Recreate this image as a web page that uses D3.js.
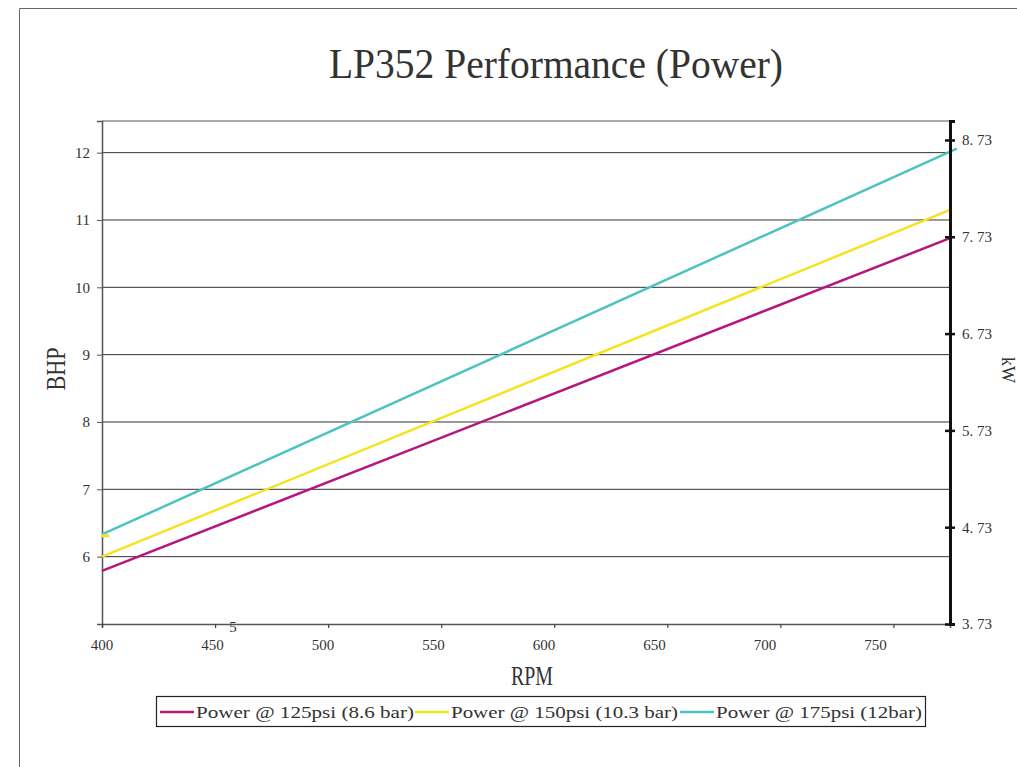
<!DOCTYPE html>
<html>
<head>
<meta charset="utf-8">
<script src="https://cdn.jsdelivr.net/npm/d3@7"></script>
<style>
  body { margin: 0; background: #fff; }
  svg { display: block; }
  text { font-family: "Liberation Serif", "DejaVu Serif", serif; fill: #333; }
</style>
</head>
<body>
<svg id="chart" width="1017" height="767"></svg>
<script>
// Data
const rpmTicks = [400, 450, 500, 550, 600, 650, 700, 750];
const bhpTicks = [5, 6, 7, 8, 9, 10, 11, 12];
const kwTicks = [3.73, 4.73, 5.73, 6.73, 7.73, 8.73];

const seriesNames = ['Power @ 125psi (8.6 bar)', 'Power @ 150psi (10.3 bar)', 'Power @ 175psi (12bar)'];
const rpm125 = [400, 775];
const bhp125 = [5.79, 10.73];
const rpm150 = [400, 775];
const bhp150 = [6.0, 11.15];
const rpm175 = [400, 778];
const bhp175 = [6.33, 12.06];
// little yellow stub at the start of the teal line
const stubRpm = [400, 403.2];
const stubBhp = [6.31, 6.31];

const colors = ['#b5177f', '#f5e31f', '#4dc3c0'];

const svg = d3.select('#chart');
const plotLeft = 102, plotRight = 950, plotTop = 121, plotBottom = 624;

// Outer frame
svg.append('path')
    .attr('d', 'M19.5,767 V8.5 H1017')
    .attr('fill', 'none')
    .attr('stroke', '#666')
    .attr('stroke-width', 1);

// Title
svg.append('text')
    .attr('x', 556).attr('y', 78)
    .attr('text-anchor', 'middle')
    .attr('font-size', 42)
    .attr('fill', '#2a2a2a')
    .attr('textLength', 454)
    .attr('lengthAdjust', 'spacingAndGlyphs')
    .text('LP352 Performance (Power)');

const xScale = d3.scaleLinear().domain([400, 775]).range([plotLeft, plotRight]);
const xLabelScale = d3.scaleLinear().domain([400, 750]).range([102, 875.5]);
const yScale = d3.scaleLinear().domain([5, 12.47]).range([plotBottom, plotTop]);
const kwScale = d3.scaleLinear().domain([3.73, 8.926]).range([plotBottom, plotTop]);

// Top frame line of plot
svg.append('line')
    .attr('x1', plotLeft).attr('x2', plotRight)
    .attr('y1', yScale(12.47)).attr('y2', yScale(12.47))
    .attr('stroke', '#555').attr('stroke-width', 1);

// Gridlines
svg.append('g').selectAll('line')
    .data(bhpTicks.filter(d => d > 5))
    .join('line')
    .attr('x1', plotLeft).attr('x2', plotRight)
    .attr('y1', d => yScale(d)).attr('y2', d => yScale(d))
    .attr('stroke', '#333').attr('stroke-width', 1);

// Left axis
const yAxis = svg.append('g')
    .attr('transform', `translate(${plotLeft},0)`)
    .call(d3.axisLeft(yScale).tickValues(bhpTicks).tickSize(5).tickPadding(7)
        .tickFormat(d => d === 5 ? '' : d));
yAxis.select('.domain').attr('stroke', '#555').attr('stroke-width', 1.5);
yAxis.selectAll('.tick line').attr('stroke', '#555');
yAxis.selectAll('.tick text').attr('font-size', 15).attr('fill', '#333')
    .attr('font-family', '"Liberation Serif", serif');

// Bottom axis
const xAxis = svg.append('g')
    .attr('transform', `translate(0,${plotBottom})`)
    .call(d3.axisBottom(xScale).tickValues(rpmTicks).tickSize(4).tickFormat(''));
xAxis.select('.domain').attr('stroke', '#555').attr('stroke-width', 1.5);
xAxis.selectAll('.tick line').attr('stroke', '#444').attr('stroke-width', 1.2);

svg.append('g').selectAll('text')
    .data(rpmTicks)
    .join('text')
    .attr('x', d => xLabelScale(d))
    .attr('y', plotBottom + 26)
    .attr('text-anchor', 'middle')
    .attr('font-size', 15)
    .text(d => d);

// stray "5" label
svg.append('text')
    .attr('x', 233).attr('y', 632)
    .attr('text-anchor', 'middle')
    .attr('font-size', 15)
    .attr('fill', '#555')
    .text('5');

// Series lines
const line = d3.line().x(d => xScale(d[0])).y(d => yScale(d[1]));
const series = [
    d3.zip(rpm125, bhp125),
    d3.zip(rpm150, bhp150),
    d3.zip(rpm175, bhp175)
];
svg.append('g').selectAll('path')
    .data(series)
    .join('path')
    .attr('d', line)
    .attr('fill', 'none')
    .attr('stroke', (d, i) => colors[i])
    .attr('stroke-width', 2.5);

svg.append('path')
    .datum(d3.zip(stubRpm, stubBhp))
    .attr('d', line)
    .attr('fill', 'none')
    .attr('stroke', colors[1])
    .attr('stroke-width', 3);

// Right axis (kW)
const kwAxis = svg.append('g')
    .attr('transform', `translate(${plotRight},0)`)
    .call(d3.axisRight(kwScale).tickValues(kwTicks).tickSize(5).tickPadding(7)
        .tickFormat(d => d.toFixed(2).replace('.', '. ')));
kwAxis.select('.domain').attr('stroke', '#111').attr('stroke-width', 3);
kwAxis.selectAll('.tick line').attr('x1', -5).attr('stroke', '#111').attr('stroke-width', 2.5);
kwAxis.selectAll('.tick text').attr('font-size', 15).attr('fill', '#333')
    .attr('font-family', '"Liberation Serif", serif')
    .style('white-space', 'pre');

// Axis titles
svg.append('text')
    .attr('transform', 'translate(65,369) rotate(-90)')
    .attr('text-anchor', 'middle')
    .attr('font-size', 28)
    .attr('textLength', 43)
    .attr('lengthAdjust', 'spacingAndGlyphs')
    .text('BHP');

svg.append('text')
    .attr('x', 532).attr('y', 685)
    .attr('text-anchor', 'middle')
    .attr('font-size', 28)
    .attr('textLength', 42)
    .attr('lengthAdjust', 'spacingAndGlyphs')
    .text('RPM');

svg.append('text')
    .attr('transform', 'translate(1002,370) rotate(90)')
    .attr('text-anchor', 'middle')
    .attr('font-size', 18)
    .text('kW');

// Legend
const legend = svg.append('g');
legend.append('rect')
    .attr('x', 156.5).attr('y', 696.5)
    .attr('width', 769).attr('height', 30)
    .attr('fill', '#fff')
    .attr('stroke', '#222').attr('stroke-width', 1.2);

const legendX = [160, 415, 680];
const legendTextLen = [218, 227, 206];
const items = legend.selectAll('g.item')
    .data(seriesNames)
    .join('g')
    .attr('class', 'item')
    .attr('transform', (d, i) => `translate(${legendX[i]},712)`);
items.append('line')
    .attr('x1', 0).attr('x2', 34)
    .attr('stroke', (d, i) => colors[i])
    .attr('stroke-width', 2.5);
items.append('text')
    .attr('x', 36).attr('y', 5.5)
    .attr('font-size', 17)
    .attr('textLength', (d, i) => legendTextLen[i])
    .attr('lengthAdjust', 'spacingAndGlyphs')
    .text(d => d);
</script>
</body>
</html>
